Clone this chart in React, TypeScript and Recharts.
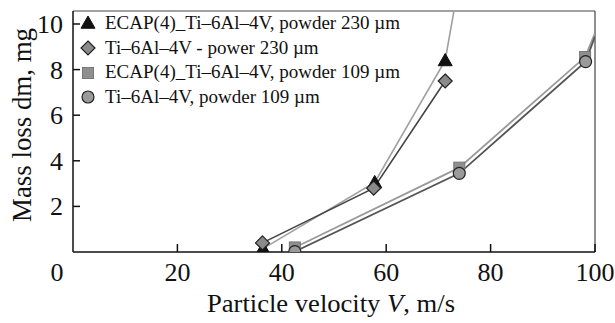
import React from "react";
import { LineChart, Line, XAxis, YAxis, ReferenceLine } from "recharts";

const xTicks = [0, 20, 40, 60, 80, 100];
const yTicks = [2, 4, 6, 8, 10];

const ecap230V = [36.4, 57.8, 71.3, 73.0];
const ecap230M = [0.15, 3.05, 8.4, 10.6];
const ti230V = [36.3, 57.6, 71.3];
const ti230M = [0.4, 2.8, 7.5];
const ecap109V = [42.5, 74.0, 98.1, 100];
const ecap109M = [0.2, 3.7, 8.55, 9.6];
const ti109V = [42.5, 74.0, 98.2, 100];
const ti109M = [0.02, 3.45, 8.35, 9.45];

const seriesNames = [
  "ECAP(4)_Ti\u20136Al\u20134V, powder 230 \u00b5m",
  "Ti\u20136Al\u20134V - power 230 \u00b5m",
  "ECAP(4)_Ti\u20136Al\u20134V, powder 109 \u00b5m",
  "Ti\u20136Al\u20134V, powder 109 \u00b5m",
];

const build = (vs: number[], ms: number[], markerCount: number) =>
  vs.map((v, i) => ({ v, m: ms[i], ext: i >= markerCount }));

const d1 = build(ecap230V, ecap230M, 3);
const d2 = build(ti230V, ti230M, 3);
const d3 = build(ecap109V, ecap109M, 3);
const d4 = build(ti109V, ti109M, 3);

const FONT = "'Liberation Serif', 'DejaVu Serif', serif";

type Shape = "tri" | "dia" | "sq" | "circ";

const Marker = ({ shape, cx, cy }: { shape: Shape; cx: number; cy: number }) => {
  if (shape === "tri") {
    const s = 7;
    return (
      <polygon
        points={`${cx},${cy - s} ${cx + s},${cy + s * 0.75} ${cx - s},${cy + s * 0.75}`}
        fill="#111"
        stroke="#111"
      />
    );
  }
  if (shape === "dia") {
    const s = 7;
    return (
      <polygon
        points={`${cx},${cy - s} ${cx + s},${cy} ${cx},${cy + s} ${cx - s},${cy}`}
        fill="#8a8a8a"
        stroke="#222"
        strokeWidth={1.2}
      />
    );
  }
  if (shape === "sq") {
    return <rect x={cx - 5.5} y={cy - 5.5} width={11} height={11} fill="#8f8f8f" stroke="#777" />;
  }
  return <circle cx={cx} cy={cy} r={6} fill="#9a9a9a" stroke="#222" strokeWidth={1.2} />;
};

const dotFor = (shape: Shape) => (props: any) => {
  const { cx, cy, payload, index } = props;
  if (payload.ext || cx == null || cy == null) return <g key={`e${index}`} />;
  return (
    <g key={`d${index}`}>
      <Marker shape={shape} cx={cx} cy={cy} />
    </g>
  );
};

const XTick = (props: any) => {
  const { x, y, payload } = props;
  const v = payload.value;
  return (
    <g>
      {v !== 0 && <line x1={x} y1={y} x2={x} y2={y - 8} stroke="#111" strokeWidth={1.5} />}
      <text
        x={v === 0 ? x - 16 : x}
        y={y + 29}
        textAnchor="middle"
        fontFamily={FONT}
        fontSize={26}
        fill="#111"
      >
        {v}
      </text>
    </g>
  );
};

const YTick = (props: any) => {
  const { x, y, payload } = props;
  return (
    <g>
      <line x1={x} y1={y} x2={x + 7} y2={y} stroke="#111" strokeWidth={1.5} />
      <text x={x - 10} y={y + 9} textAnchor="end" fontFamily={FONT} fontSize={26} fill="#111">
        {payload.value}
      </text>
    </g>
  );
};

const shapes: Shape[] = ["tri", "dia", "sq", "circ"];

export default function App() {
  return (
    <div style={{ position: "absolute", left: 0, top: 0, width: 615, height: 323, background: "#fff" }}>
      <LineChart width={615} height={323} margin={{ top: 11, right: 20, left: 0, bottom: 0 }}>
        <XAxis
          type="number"
          dataKey="v"
          domain={[0, 100]}
          ticks={xTicks}
          tick={<XTick />}
          tickSize={0}
          tickMargin={0}
          tickLine={false}
          height={71}
          axisLine={{ stroke: "#111", strokeWidth: 1.5 }}
          allowDataOverflow
        />
        <YAxis
          type="number"
          dataKey="m"
          domain={[0, 10.57]}
          ticks={yTicks}
          tick={<YTick />}
          tickSize={0}
          tickMargin={0}
          tickLine={false}
          width={73}
          axisLine={{ stroke: "#111", strokeWidth: 1.5 }}
          allowDataOverflow
        />
        <ReferenceLine y={10.57} stroke="#444" strokeWidth={1.2} />
        <ReferenceLine x={100} stroke="#444" strokeWidth={1.2} />
        <Line data={d3} dataKey="m" stroke="#9a9a9a" strokeWidth={1.8} dot={dotFor("sq")} isAnimationActive={false} />
        <Line data={d4} dataKey="m" stroke="#555" strokeWidth={1.8} dot={dotFor("circ")} isAnimationActive={false} />
        <Line data={d1} dataKey="m" stroke="#a0a0a0" strokeWidth={1.6} dot={dotFor("tri")} isAnimationActive={false} />
        <Line data={d2} dataKey="m" stroke="#444" strokeWidth={1.6} dot={dotFor("dia")} isAnimationActive={false} />
      </LineChart>
      <div
        style={{
          position: "absolute",
          left: 79,
          top: 11,
          fontFamily: FONT,
          fontSize: 19,
          color: "#111",
          lineHeight: "24.7px",
        }}
      >
        {seriesNames.map((n, i) => (
          <div key={n} style={{ display: "flex", alignItems: "center", whiteSpace: "nowrap" }}>
            <svg width={18} height={18} style={{ marginRight: 8 }}>
              <Marker shape={shapes[i]} cx={9} cy={9} />
            </svg>
            <span>{n}</span>
          </div>
        ))}
      </div>
      <svg width={615} height={323} style={{ position: "absolute", left: 0, top: 0, pointerEvents: "none" }}>
        <text
          x={207}
          y={312}
          fontFamily={FONT}
          fontSize={26}
          fill="#111"
          textLength={248}
          lengthAdjust="spacingAndGlyphs"
        >
          Particle velocity <tspan fontStyle="italic">V</tspan>, m/s
        </text>
        <text
          transform="translate(31, 222) rotate(-90)"
          x={0}
          y={0}
          fontFamily={FONT}
          fontSize={27}
          fill="#111"
          textLength={194}
          lengthAdjust="spacingAndGlyphs"
        >
          Mass loss dm, mg
        </text>
      </svg>
    </div>
  );
}
